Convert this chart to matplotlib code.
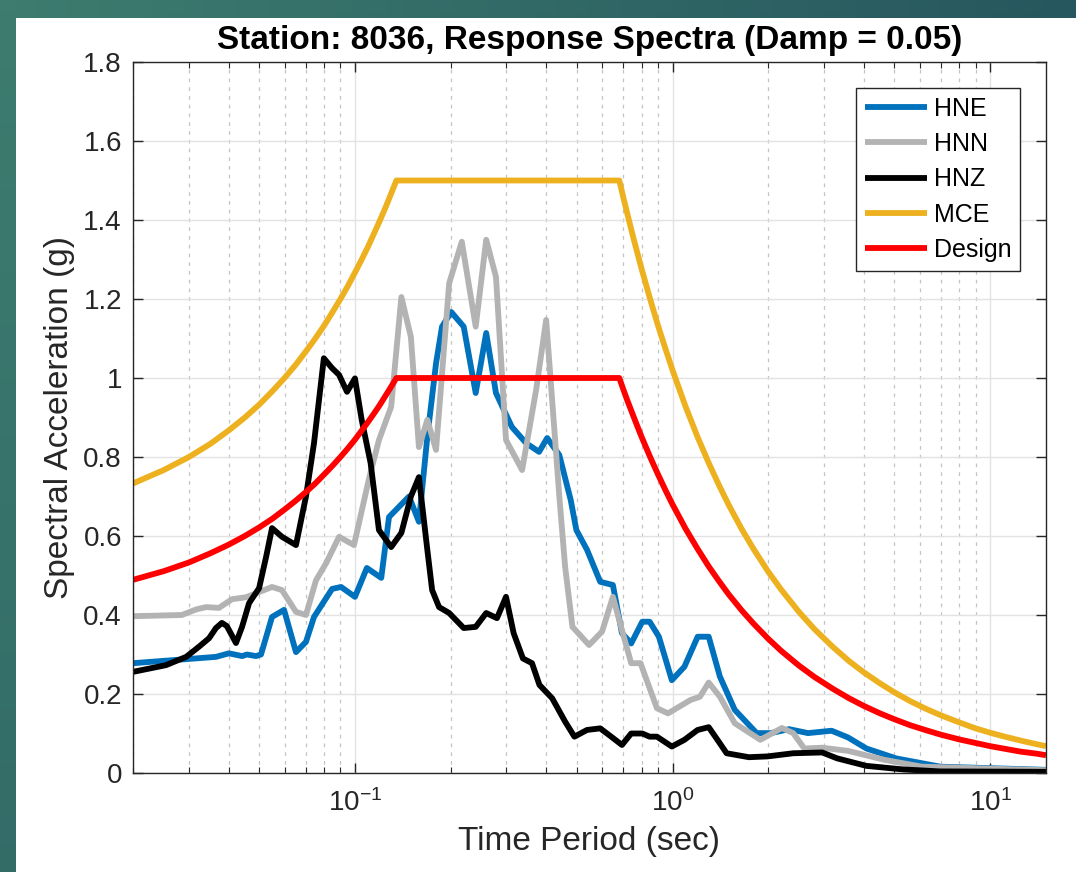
"""Response spectra of station 8036 against the MCE and design spectra."""

import matplotlib
matplotlib.use("Agg")
import matplotlib.pyplot as plt
import numpy as np
from matplotlib.colors import LinearSegmentedColormap
from matplotlib.patches import Rectangle
from matplotlib.ticker import FuncFormatter, LogLocator, MultipleLocator

plt.rcParams["font.family"] = ["Liberation Sans", "DejaVu Sans"]

# Recorded spectra (period in s, spectral acceleration in g)
hne_period = [0.02, 0.0365, 0.0401, 0.0441, 0.0457, 0.0488, 0.0506, 0.0548, 0.0598,
              0.0652, 0.0701, 0.0743, 0.0847, 0.0904, 0.1, 0.109, 0.121, 0.128, 0.148,
              0.159, 0.169, 0.180, 0.188, 0.201, 0.220, 0.240, 0.259, 0.278, 0.312,
              0.346, 0.380, 0.403, 0.44, 0.478, 0.498, 0.538, 0.592, 0.649, 0.693,
              0.741, 0.803, 0.847, 0.906, 0.995, 1.09, 1.20, 1.30, 1.41, 1.57, 1.84,
              2.04, 2.33, 2.67, 3.17, 3.57, 4.08, 5.06, 6.97, 15.0]
hne_sa = [0.278, 0.294, 0.303, 0.296, 0.300, 0.296, 0.300, 0.395, 0.413,
          0.306, 0.332, 0.395, 0.466, 0.471, 0.446, 0.519, 0.494, 0.648, 0.700,
          0.636, 0.851, 1.037, 1.130, 1.167, 1.130, 0.962, 1.114, 0.962, 0.876,
          0.835, 0.813, 0.848, 0.805, 0.691, 0.615, 0.565, 0.484, 0.476, 0.354,
          0.328, 0.383, 0.383, 0.345, 0.235, 0.269, 0.345, 0.345, 0.244, 0.160, 0.101,
          0.101, 0.111, 0.101, 0.107, 0.090, 0.062, 0.037, 0.016, 0.008]

hnn_period = [0.02, 0.0285, 0.0316, 0.034, 0.0373, 0.041, 0.0454, 0.0488, 0.0548,
              0.0589, 0.0652, 0.0701, 0.0754, 0.0811, 0.0891, 0.0993, 0.111, 0.119,
              0.130, 0.140, 0.150, 0.159, 0.169, 0.180, 0.198, 0.217, 0.240, 0.259,
              0.278, 0.299, 0.336, 0.372, 0.400, 0.441, 0.459, 0.484, 0.546, 0.600,
              0.649, 0.693, 0.741, 0.793, 0.893, 0.968, 1.14, 1.22, 1.30, 1.41, 1.57,
              1.89, 2.21, 2.40, 2.60, 2.96, 3.57, 4.67, 6.10, 15.0]
hnn_sa = [0.397, 0.400, 0.414, 0.420, 0.418, 0.440, 0.445, 0.455, 0.471,
          0.463, 0.408, 0.400, 0.488, 0.531, 0.598, 0.577, 0.749, 0.843,
          0.927, 1.205, 1.104, 0.825, 0.894, 0.818, 1.240, 1.345, 1.130, 1.350,
          1.256, 0.843, 0.767, 0.970, 1.147, 0.691, 0.522, 0.370, 0.324, 0.358,
          0.446, 0.362, 0.278, 0.278, 0.164, 0.151, 0.185, 0.193, 0.229, 0.193, 0.126,
          0.084, 0.114, 0.101, 0.062, 0.064, 0.056, 0.033, 0.016, 0.007]

hnz_period = [0.02, 0.0254, 0.0294, 0.0323, 0.0347, 0.0365, 0.0381, 0.0395, 0.0422,
              0.0441, 0.0464, 0.0499, 0.0525, 0.0548, 0.0589, 0.0652, 0.0701, 0.0743,
              0.0798, 0.0847, 0.0891, 0.0944, 0.1, 0.105, 0.112, 0.119, 0.130, 0.140,
              0.150, 0.159, 0.169, 0.175, 0.184, 0.198, 0.220, 0.240, 0.259, 0.280,
              0.299, 0.316, 0.338, 0.361, 0.381, 0.418, 0.459, 0.491, 0.538, 0.592,
              0.641, 0.693, 0.741, 0.803, 0.847, 0.893, 0.995, 1.09, 1.20, 1.30, 1.41,
              1.48, 1.74, 1.99, 2.40, 2.96, 3.30, 4.08, 5.33, 6.97, 15.0]
hnz_sa = [0.256, 0.273, 0.294, 0.320, 0.341, 0.367, 0.380, 0.372, 0.329,
          0.370, 0.430, 0.468, 0.547, 0.620, 0.598, 0.577, 0.700, 0.835,
          1.050, 1.025, 1.008, 0.965, 0.999, 0.894, 0.785, 0.615, 0.572, 0.608,
          0.700, 0.749, 0.565, 0.463, 0.420, 0.405, 0.367, 0.370, 0.405, 0.392,
          0.446, 0.354, 0.290, 0.278, 0.223, 0.189, 0.130, 0.092, 0.109, 0.113,
          0.092, 0.071, 0.100, 0.100, 0.092, 0.092, 0.067, 0.084, 0.109, 0.116, 0.075,
          0.050, 0.040, 0.042, 0.050, 0.052, 0.037, 0.018, 0.009, 0.004, 0.003]

# Code spectra sampled at fixed periods
code_period = [0.02, 0.025, 0.03, 0.035, 0.04, 0.045, 0.05, 0.055, 0.06, 0.065, 0.07,
               0.075, 0.08, 0.085, 0.09, 0.095, 0.10, 0.105, 0.11, 0.115, 0.12, 0.125,
               0.13, 0.135, 0.68, 0.70, 0.72, 0.75, 0.78, 0.80, 0.85, 0.90, 0.95, 1.0,
               1.1, 1.2, 1.3, 1.4, 1.5, 1.65, 1.8, 2.0, 2.2, 2.5, 2.8, 3.2, 3.6, 4.0,
               4.5, 5.0, 5.6, 6.3, 7.0, 8.0, 9.0, 10.0, 11.0, 12.5, 14.0, 15.0]
mce_sa = [0.733, 0.767, 0.800, 0.833, 0.867, 0.900, 0.933, 0.967, 1.000, 1.033, 1.067,
          1.100, 1.133, 1.167, 1.200, 1.233, 1.267, 1.300, 1.333, 1.367, 1.400, 1.433,
          1.467, 1.500, 1.500, 1.457, 1.417, 1.360, 1.308, 1.275, 1.200, 1.133, 1.074,
          1.020, 0.927, 0.850, 0.785, 0.729, 0.680, 0.618, 0.567, 0.510, 0.464, 0.408,
          0.364, 0.319, 0.283, 0.255, 0.227, 0.204, 0.182, 0.162, 0.146, 0.128, 0.113,
          0.102, 0.093, 0.082, 0.073, 0.068]
design_sa = [0.489, 0.511, 0.533, 0.556, 0.578, 0.600, 0.622, 0.644, 0.667, 0.689, 0.711,
             0.733, 0.756, 0.778, 0.800, 0.822, 0.844, 0.867, 0.889, 0.911, 0.933, 0.956,
             0.978, 1.000, 1.000, 0.971, 0.944, 0.907, 0.872, 0.850, 0.800, 0.756, 0.716,
             0.680, 0.618, 0.567, 0.523, 0.486, 0.453, 0.412, 0.378, 0.340, 0.309, 0.272,
             0.243, 0.213, 0.189, 0.170, 0.151, 0.136, 0.121, 0.108, 0.097, 0.085, 0.076,
             0.068, 0.062, 0.054, 0.049, 0.045]

W, H = 1076, 872
fig = plt.figure(figsize=(W / 100, H / 100), dpi=100)

# teal slide border behind the white figure area
bg = fig.add_axes([0, 0, 1, 1], zorder=-10)
gx, gy = np.meshgrid(np.linspace(0, 1, 64), np.linspace(0, 1, 64))
teal = LinearSegmentedColormap.from_list("teal", ["#3d7c6f", "#1d4757"])
bg.imshow(gx * 0.7 + gy * 0.3, cmap=teal, aspect="auto", extent=[0, 1, 0, 1],
          origin="upper")
bg.add_patch(Rectangle((16 / W, 0), 1, 1 - 18 / H, facecolor="white", edgecolor="none"))
bg.set_xlim(0, 1)
bg.set_ylim(0, 1)
bg.axis("off")

ax = fig.add_axes([133 / W, 1 - 773 / H, (1046 - 133) / W, (773 - 62) / H])
style = dict(lw=4.2, solid_joinstyle="round", solid_capstyle="butt")
ax.plot(hne_period, hne_sa, color="#0072BD", label="HNE", **style)
ax.plot(hnn_period, hnn_sa, color="#B3B3B3", label="HNN", **style)
ax.plot(hnz_period, hnz_sa, color="black", label="HNZ", **style)
ax.plot(code_period, mce_sa, color="#EDB120", label="MCE", **style)
ax.plot(code_period, design_sa, color="#FF0000", label="Design", **style)

ax.set_xscale("log")
ax.set_xlim(0.02, 15)
ax.set_ylim(0, 1.8)
ax.yaxis.set_major_locator(MultipleLocator(0.2))
ax.yaxis.set_major_formatter(FuncFormatter(lambda v, _: f"{v:g}"))
ax.xaxis.set_major_locator(LogLocator(base=10))
ax.xaxis.set_minor_locator(LogLocator(base=10, subs=np.arange(2, 10)))

ax.set_axisbelow(True)
ax.grid(True, which="major", color="#e2e2e2", lw=1.0, ls="-")
ax.grid(True, which="minor", axis="x", color="#c4c4c4", lw=0.9, ls=(0, (3, 4)))

axis_col = "#262626"
for sp in ax.spines.values():
    sp.set_color(axis_col)
    sp.set_linewidth(1.0)
ax.tick_params(which="both", direction="in", top=True, right=True, colors=axis_col,
               labelcolor=axis_col, labelsize=20)
ax.tick_params(which="major", length=7, width=1.0)
ax.tick_params(which="minor", length=4, width=0.8)
ax.tick_params(axis="x", pad=12)
ax.tick_params(axis="y", pad=8)

ax.set_title("Station: 8036, Response Spectra (Damp = 0.05)", fontsize=24,
             fontweight="bold", pad=9)
ax.set_xlabel("Time Period (sec)", fontsize=24, color=axis_col, labelpad=6)
ax.set_ylabel("Spectral Acceleration (g)", fontsize=24, color=axis_col, labelpad=6)

leg = ax.legend(loc="upper right", bbox_to_anchor=(0.9715, 0.9634), borderaxespad=0,
                fontsize=18, fancybox=False, framealpha=1, edgecolor=axis_col,
                handlelength=2.5, handletextpad=0.25, labelspacing=0.45,
                borderpad=0.35)
leg.get_frame().set_linewidth(1.0)

fig.savefig("out.png", dpi=100)
